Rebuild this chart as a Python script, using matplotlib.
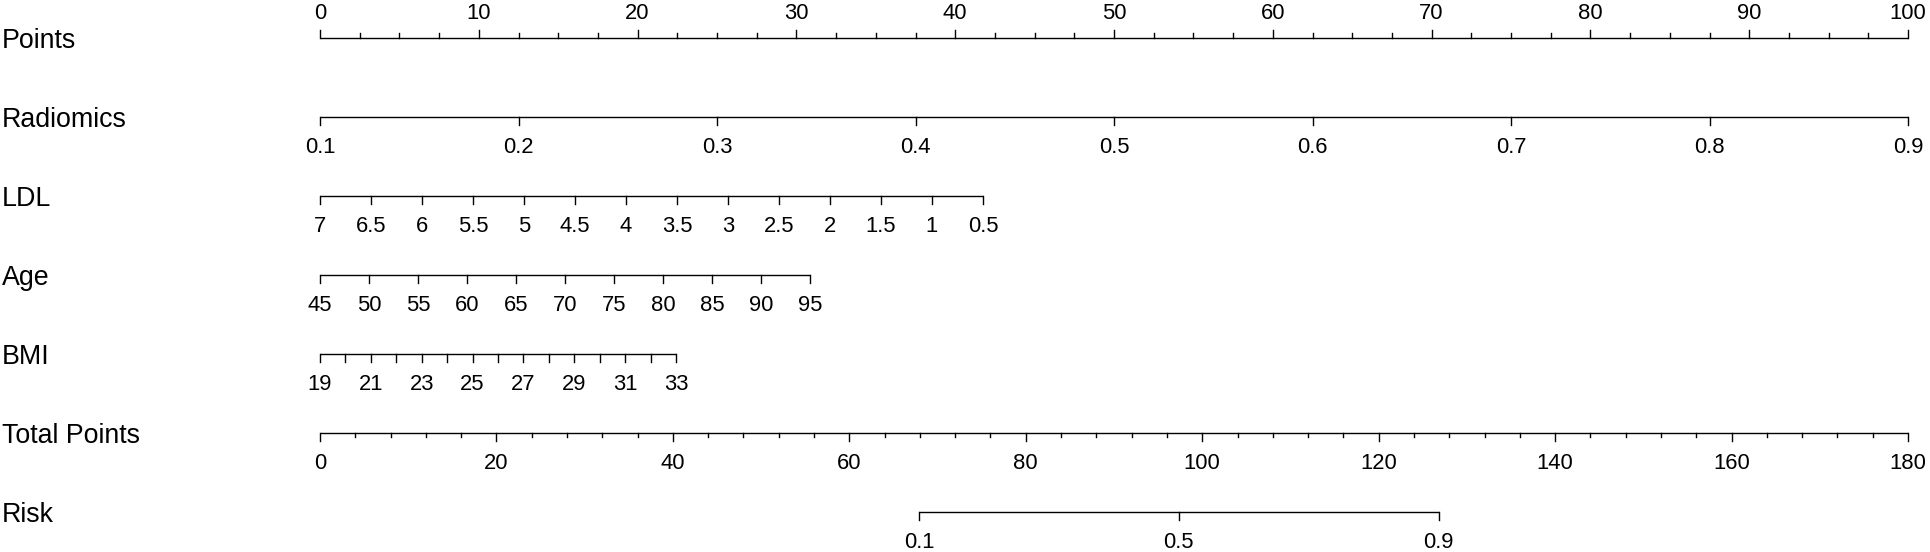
import matplotlib
matplotlib.use('Agg')
import matplotlib.pyplot as plt
import numpy as np

plt.rcParams['font.family'] = ['Liberation Sans', 'DejaVu Sans']

# values
row_names = ['Points', 'Radiomics', 'LDL', 'Age', 'BMI', 'Total Points', 'Risk']

points_major = [0, 10, 20, 30, 40, 50, 60, 70, 80, 90, 100]
points_minor = [2.5, 5, 7.5, 12.5, 15, 17.5, 22.5, 25, 27.5, 32.5, 35, 37.5,
                42.5, 45, 47.5, 52.5, 55, 57.5, 62.5, 65, 67.5, 72.5, 75, 77.5,
                82.5, 85, 87.5, 92.5, 95, 97.5]

radiomics_vals = [0.1, 0.2, 0.3, 0.4, 0.5, 0.6, 0.7, 0.8, 0.9]
radiomics_pts = (0, 100)          # points at 0.1 and 0.9

ldl_vals = [7, 6.5, 6, 5.5, 5, 4.5, 4, 3.5, 3, 2.5, 2, 1.5, 1, 0.5]
ldl_labels = ['7', '6.5', '6', '5.5', '5', '4.5', '4', '3.5', '3', '2.5', '2', '1.5', '1', '0.5']
ldl_pts = (0, 41.75)              # points at 7 and 0.5

age_vals = [45, 50, 55, 60, 65, 70, 75, 80, 85, 90, 95]
age_pts = (0, 30.86)              # points at 45 and 95

bmi_vals = [19, 20, 21, 22, 23, 24, 25, 26, 27, 28, 29, 30, 31, 32, 33]
bmi_labels = [19, 21, 23, 25, 27, 29, 31, 33]
bmi_pts = (0, 22.42)              # points at 19 and 33

total_major = [0, 20, 40, 60, 80, 100, 120, 140, 160, 180]
total_minor = [4, 8, 12, 16, 24, 28, 32, 36, 44, 48, 52, 56, 64, 68, 72, 76,
               84, 88, 92, 96, 104, 108, 112, 116, 124, 128, 132, 136,
               144, 148, 152, 156, 164, 168, 172, 176]
total_max = 180

risk_vals = [0.1, 0.5, 0.9]
risk_intercept = -7.263
risk_slope = 0.07461              # linear predictor per total point


def lin(v, v0, v1, p0, p1):
    v = np.asarray(v, dtype=float)
    return p0 + (v - v0) / (v1 - v0) * (p1 - p0)


fig = plt.figure(figsize=(19.3, 5.52), dpi=100)
ax = fig.add_axes([0, 0, 1, 1])
px = 15.88                      # pixels per point
ax.set_xlim(-320 / px, (1930 - 320) / px)
ax.set_ylim(552, 0)
ax.axis('off')

row_y = [37.7 + 79 * i for i in range(7)]
lw = 1.0
tick_fs = 15.8
name_fs = 19.3
big, small = 8, 4.5


def scale(y, pos, labels, lab_pos, tick_pos=None, up=False, minor=None):
    tick_pos = pos if tick_pos is None else tick_pos
    ax.plot([min(tick_pos), max(tick_pos)], [y, y], color='black', lw=lw,
            solid_capstyle='butt')
    d = -1 if up else 1
    for x in tick_pos:
        ax.plot([x, x], [y, y + d * big], color='black', lw=lw)
    if minor is not None:
        for x in minor:
            ax.plot([x, x], [y, y + d * small], color='black', lw=lw)
    for x, s in zip(lab_pos, labels):
        if up:
            ax.text(x, y - 18.7, s, ha='center', va='baseline', fontsize=tick_fs)
        else:
            ax.text(x, y + 36.6, s, ha='center', va='baseline', fontsize=tick_fs)


for name, y in zip(row_names, row_y):
    ax.text(2 / px - 320 / px, y + 10, name, ha='left', va='baseline', fontsize=name_fs)

# Points
scale(row_y[0], points_major, [str(v) for v in points_major], points_major,
      up=True, minor=points_minor)

# Radiomics
p = lin(radiomics_vals, 0.1, 0.9, *radiomics_pts)
scale(row_y[1], p, [str(v) for v in radiomics_vals], p)

# LDL
p = lin(ldl_vals, 7, 0.5, *ldl_pts)
scale(row_y[2], p, ldl_labels, p)

# Age
p = lin(age_vals, 45, 95, *age_pts)
scale(row_y[3], p, [str(v) for v in age_vals], p)

# BMI
p = lin(bmi_vals, 19, 33, *bmi_pts)
pl = lin(bmi_labels, 19, 33, *bmi_pts)
scale(row_y[4], p, [str(v) for v in bmi_labels], pl)

# Total Points
tp = lin(total_major, 0, total_max, 0, 100)
tm = lin(total_minor, 0, total_max, 0, 100)
scale(row_y[5], tp, [str(v) for v in total_major], tp, minor=tm)

# Risk
rv = np.array(risk_vals)
tot = (np.log(rv / (1 - rv)) - risk_intercept) / risk_slope
p = lin(tot, 0, total_max, 0, 100)
scale(row_y[6], p, [str(v) for v in risk_vals], p)

fig.savefig('out.png', dpi=100)
